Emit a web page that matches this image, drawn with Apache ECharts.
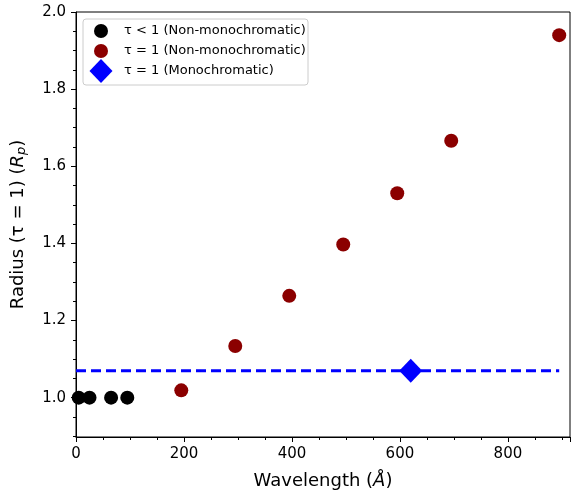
<!DOCTYPE html>
<html>
<head>
<meta charset="utf-8">
<script src="https://cdn.jsdelivr.net/npm/echarts@6/dist/echarts.min.js"></script>
<style>
  html, body { margin: 0; padding: 0; background: #fff; }
  #chart { width: 571px; height: 495px; }
</style>
</head>
<body>
<div id="chart"></div>
<script>
// data
const thinX = [5, 25, 65, 95];
const thinY = [1.0, 1.0, 1.0, 1.0];
const nonMonoX = [195, 295, 395, 495, 595, 695, 895];
const nonMonoY = [1.019, 1.134, 1.264, 1.397, 1.530, 1.666, 1.940];
const monoX = [620];
const monoY = [1.07];
const monoLineX = [0, 895];
const monoLineY = [1.07, 1.07];

const yMajor = [1.0, 1.2, 1.4, 1.6, 1.8, 2.0];
const yMinor = [0.9, 0.95, 1.05, 1.1, 1.15, 1.25, 1.3, 1.35, 1.45, 1.5, 1.55, 1.65, 1.7, 1.75, 1.85, 1.9, 1.95];

const legendNames = ['τ < 1 (Non-monochromatic)', 'τ = 1 (Non-monochromatic)', 'τ = 1 (Monochromatic)'];

const FONT = 'DejaVu Sans';

function pairs(xs, ys) {
  return xs.map((x, i) => [x, ys[i]]);
}

const chart = echarts.init(document.getElementById('chart'));

const option = {
  animation: false,
  backgroundColor: '#fff',
  grid: {
    left: 76, right: 1, top: 12, bottom: 58,
    show: true, borderColor: '#000', borderWidth: 1
  },
  xAxis: {
    type: 'value',
    min: 0, max: 915, interval: 200,
    name: 'Wavelength ({it|Å})',
    nameLocation: 'middle',
    nameGap: 35,
    nameTextStyle: {
      fontFamily: FONT, fontSize: 18, color: '#000',
      rich: { it: { fontFamily: FONT, fontSize: 18, fontStyle: 'italic', color: '#000' } }
    },
    axisLine: { show: true, lineStyle: { color: '#000', width: 1 } },
    axisTick: { show: true, length: 5, lineStyle: { color: '#000' } },
    minorTick: { show: true, splitNumber: 4, length: 3, lineStyle: { color: '#000' } },
    axisLabel: { fontFamily: FONT, fontSize: 15, color: '#000', margin: 10, showMaxLabel: false },
    splitLine: { show: false }
  },
  yAxis: [{
    type: 'value',
    min: 0.898, max: 2.0,
    name: 'Radius (τ = 1) ({it|R}{sub|p})',
    nameLocation: 'middle',
    nameRotate: 90,
    nameGap: 48,
    nameTextStyle: {
      fontFamily: FONT, fontSize: 18, color: '#000',
      rich: {
        it: { fontFamily: FONT, fontSize: 18, fontStyle: 'italic', color: '#000' },
        sub: { fontFamily: FONT, fontSize: 13, fontStyle: 'italic', color: '#000', verticalAlign: 'bottom', padding: [6, 0, 0, 0] }
      }
    },
    axisLine: { show: true, lineStyle: { color: '#000', width: 1 } },
    axisTick: { show: true, length: 5, customValues: yMajor, lineStyle: { color: '#000' } },
    axisLabel: {
      fontFamily: FONT, fontSize: 15, color: '#000', margin: 10,
      customValues: yMajor,
      formatter: v => v.toFixed(1)
    },
    splitLine: { show: false }
  }, {
    type: 'value',
    position: 'left',
    min: 0.898, max: 2.0,
    axisLine: { show: false },
    axisTick: { show: true, length: 3, customValues: yMinor, lineStyle: { color: '#000' } },
    axisLabel: { show: false },
    splitLine: { show: false }
  }],
  legend: [0, 1, 2].map(i => {
    const diamond = i === 2;
    return {
      data: [legendNames[i]],
      left: diamond ? 89.5 : 94,
      top: diamond ? 59 : [24, 44][i],
      padding: 0,
      itemWidth: diamond ? 23 : 14,
      itemHeight: diamond ? 24 : 14,
      z: 6,
      selectedMode: false,
      textStyle: {
        fontFamily: FONT, fontSize: 13, color: '#000',
        padding: [0, 0, 0, diamond ? 6.5 : 11]
      }
    };
  }),
  graphic: [{
    type: 'rect',
    z: 5,
    shape: { x: 83, y: 19, width: 225, height: 66, r: 3 },
    style: { fill: 'rgba(255,255,255,0.8)', stroke: '#cccccc', lineWidth: 1 }
  }],
  series: [
    {
      name: legendNames[0],
      type: 'scatter',
      symbol: 'circle',
      symbolSize: 14,
      itemStyle: { color: '#000000', opacity: 1 },
      data: pairs(thinX, thinY),
      z: 3
    },
    {
      name: legendNames[1],
      type: 'scatter',
      symbol: 'circle',
      symbolSize: 14,
      itemStyle: { color: '#8b0000', opacity: 1 },
      data: pairs(nonMonoX, nonMonoY),
      z: 3
    },
    {
      name: 'monoLine',
      type: 'line',
      showSymbol: false,
      symbol: 'none',
      lineStyle: { color: '#0000ff', width: 3, type: [10, 5] },
      data: pairs(monoLineX, monoLineY),
      z: 2
    },
    {
      name: legendNames[2],
      type: 'scatter',
      symbol: 'diamond',
      symbolSize: [23, 24],
      itemStyle: { color: '#0000ff', opacity: 1 },
      data: pairs(monoX, monoY),
      z: 4
    }
  ]
};

chart.setOption(option);
</script>
</body>
</html>
